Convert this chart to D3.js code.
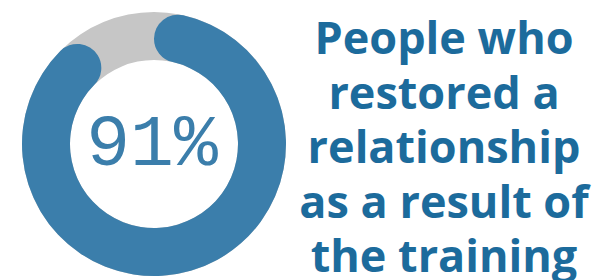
<!DOCTYPE html>
<html>
<head>
<meta charset="utf-8">
<script src="https://cdn.jsdelivr.net/npm/d3@7"></script>
<style>
  html, body { margin: 0; padding: 0; background: #fff; }
  svg { display: block; }
</style>
</head>
<body>
<div id="vis"></div>
<script>
var width = 598, height = 280

// data
var share = [0.91]
var centerLabel = ['91%']
var titleLines = ['People who', 'restored a', 'relationship', 'as a result of', 'the training']

var cx = 154, cy = 144
var outerR = 132, innerR = 84

var svg = d3.select('#vis').append('svg')
    .attr('width', width)
    .attr('height', height)

var g = svg.append('g')
    .attr('transform', 'translate(' + cx + ',' + cy + ')')

var angle = d3.scaleLinear().domain([0, 1]).range([0, 2 * Math.PI])

var bgArc = d3.arc()
    .innerRadius(innerR)
    .outerRadius(outerR)
    .startAngle(0)
    .endAngle(2 * Math.PI)

var arc = d3.arc()
    .innerRadius(innerR)
    .outerRadius(outerR)
    .cornerRadius((outerR - innerR) / 2)

g.append('path')
    .attr('d', bgArc())
    .attr('fill', '#c6c6c6')

g.selectAll('.val')
    .data(share)
    .enter().append('path')
    .attr('class', 'val')
    .attr('d', d => arc({startAngle: angle(0), endAngle: angle(d)}))
    .attr('fill', '#3b7eab')

g.append('text')
    .text(centerLabel[0])
    .attr('x', -2)
    .attr('y', 21)
    .attr('text-anchor', 'middle')
    .attr('font-family', 'Liberation Mono, monospace')
    .attr('font-size', 73)
    .attr('fill', '#3b7eab')

var title = svg.append('g')
    .attr('transform', 'translate(444,0)')

title.selectAll('text')
    .data(titleLines)
    .enter().append('text')
    .text(d => d)
    .attr('x', 0)
    .attr('y', (d, i) => 54 + i * 54.6)
    .attr('text-anchor', 'middle')
    .attr('font-family', 'Open Sans, sans-serif')
    .attr('font-weight', 700)
    .attr('font-size', 45)
    .attr('fill', '#1c6b9c')
</script>
</body>
</html>
